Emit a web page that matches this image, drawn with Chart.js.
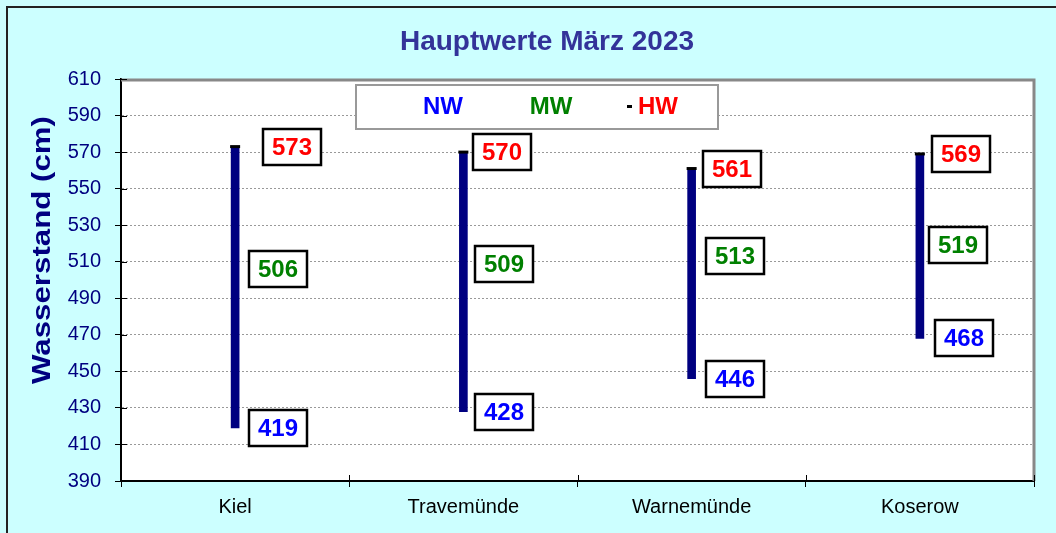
<!DOCTYPE html>
<html>
<head>
<meta charset="utf-8">
<script src="https://cdn.jsdelivr.net/npm/chart.js@4.4.0/dist/chart.umd.min.js"></script>
<style>
  html, body { margin: 0; padding: 0; background: #CCFFFF; }
  #wrap { width: 1056px; height: 533px; }
</style>
</head>
<body>
<div id="wrap"><canvas id="c" width="1056" height="533"></canvas></div>
<script>
const TITLE = 'Hauptwerte März 2023';
const Y_TITLE = 'Wasserstand (cm)';
const stations = ['Kiel', 'Travemünde', 'Warnemünde', 'Koserow'];
const nw = [419, 428, 446, 468];
const mw = [506, 509, 513, 519];
const hw = [573, 570, 561, 569];
const yMin = 390, yMax = 610, yStep = 20;
const legendNames = ['NW', 'MW', 'HW'];

// layout helpers (not data)
const COLORS = { nw: '#0000FF', mw: '#008000', hw: '#FF0000' };
const labelDx = { hw: [28, 10, 11, 12], mw: [14, 12, 14, 9], nw: [14, 12, 14, 15] };
const FONT = '"Liberation Sans", Arial, sans-serif';

const decor = {
  id: 'decor',
  beforeDraw(chart) {
    const ctx = chart.ctx, a = chart.chartArea;
    ctx.save();
    ctx.fillStyle = '#CCFFFF';
    ctx.fillRect(0, 0, chart.width, chart.height);
    ctx.strokeStyle = '#222';
    ctx.lineWidth = 2;
    ctx.beginPath();
    ctx.moveTo(7, chart.height); ctx.lineTo(7, 7); ctx.lineTo(chart.width, 7);
    ctx.stroke();
    ctx.fillStyle = '#FFFFFF';
    ctx.fillRect(a.left, a.top, a.right - a.left, a.bottom - a.top);
    ctx.restore();
  },
  afterDraw(chart) {
    const ctx = chart.ctx, a = chart.chartArea;
    const ys = chart.scales.y;
    ctx.save();
    ctx.strokeStyle = '#888888';
    ctx.lineWidth = 3;
    ctx.beginPath();
    ctx.moveTo(a.left, a.top + 1); ctx.lineTo(a.right, a.top + 1); ctx.lineTo(a.right, a.bottom);
    ctx.stroke();
    ctx.strokeStyle = '#000';
    ctx.lineWidth = 1;
    ctx.beginPath();
    ys.ticks.forEach((t, i) => {
      const y = Math.round(ys.getPixelForTick(i)) + 0.5;
      ctx.moveTo(a.left, y); ctx.lineTo(a.left + 6, y);
    });
    for (let i = 0; i <= stations.length; i++) {
      const x = Math.round(a.left + (a.right - a.left) * i / stations.length) + 0.5;
      ctx.moveTo(x, a.bottom - 6); ctx.lineTo(x, a.bottom);
    }
    ctx.stroke();
    ctx.save();
    ctx.translate(43, 250);
    ctx.rotate(-Math.PI / 2);
    ctx.scale(1.25, 1);
    ctx.font = 'bold 25px ' + FONT;
    ctx.fillStyle = '#000080';
    ctx.textAlign = 'center';
    ctx.textBaseline = 'middle';
    ctx.fillText(Y_TITLE, 0, 0);
    ctx.restore();
    ctx.fillStyle = '#FFFFFF';
    ctx.fillRect(356, 85, 362, 44);
    ctx.strokeStyle = '#999999';
    ctx.lineWidth = 2;
    ctx.strokeRect(356, 85, 362, 44);
    ctx.font = 'bold 24px ' + FONT;
    ctx.textAlign = 'center';
    ctx.textBaseline = 'middle';
    ctx.fillStyle = COLORS.nw; ctx.fillText(legendNames[0], 443, 107);
    ctx.fillStyle = COLORS.mw; ctx.fillText(legendNames[1], 551, 107);
    ctx.fillStyle = COLORS.hw; ctx.fillText(legendNames[2], 658, 107);
    ctx.fillStyle = '#000'; ctx.fillRect(627, 105, 5, 3);
    ctx.restore();
  },
  afterDatasetsDraw(chart) {
    const ctx = chart.ctx;
    const xs = chart.scales.x, ys = chart.scales.y;
    const W = 58, H = 36;
    ctx.save();
    ctx.font = 'bold 24px ' + FONT;
    ctx.textAlign = 'center';
    ctx.textBaseline = 'middle';
    const series = [['hw', hw], ['mw', mw], ['nw', nw]];
    stations.forEach((s, i) => {
      const bx = xs.getPixelForValue(i);
      series.forEach(([k, arr]) => {
        const y = ys.getPixelForValue(arr[i]);
        const left = Math.round(bx + labelDx[k][i]);
        const top = Math.round(y - H / 2);
        ctx.fillStyle = '#FFFFFF';
        ctx.fillRect(left, top, W, H);
        ctx.strokeStyle = '#000';
        ctx.lineWidth = 2.5;
        ctx.strokeRect(left, top, W, H);
        ctx.fillStyle = COLORS[k];
        ctx.fillText(String(arr[i]), left + W / 2, top + H / 2 + 1);
      });
    });
    ctx.restore();
  }
};

new Chart(document.getElementById('c'), {
  type: 'bar',
  data: {
    labels: stations,
    datasets: [
      {
        label: 'NW-HW',
        data: stations.map((_, i) => [nw[i], hw[i]]),
        backgroundColor: '#000080',
        borderWidth: 0,
        barThickness: 8,
        order: 2
      },
      {
        type: 'line',
        label: legendNames[2],
        data: hw,
        showLine: false,
        pointStyle: 'line',
        pointRadius: 5,
        pointBorderWidth: 3,
        pointBorderColor: '#000',
        pointBackgroundColor: '#000',
        order: 1
      }
    ]
  },
  options: {
    responsive: false,
    animation: false,
    devicePixelRatio: 1,
    layout: { padding: { left: 60, right: 22, top: 0, bottom: 0 } },
    plugins: {
      legend: { display: false },
      tooltip: { enabled: false },
      title: {
        display: true,
        text: TITLE,
        color: '#333399',
        font: { family: FONT, size: 28, weight: 'bold', lineHeight: 1.2 },
        padding: { top: 25.2, bottom: 20.2 }
      }
    },
    scales: {
      x: {
        grid: { drawOnChartArea: false, tickLength: 6, tickColor: '#000', offset: true },
        border: { color: '#000', width: 2 },
        ticks: { color: '#000', padding: 8, font: { family: FONT, size: 20 } },
        afterFit(scale) { scale.height = 52; }
      },
      y: {
        min: yMin, max: yMax,
        ticks: { stepSize: yStep, color: '#000080', padding: 14, font: { family: FONT, size: 20 } },
        grid: {
          color: (c) => (c.tick && c.tick.value === yMax) ? 'rgba(0,0,0,0)' : '#999999',
          lineWidth: 1,
          tickLength: 6,
          tickColor: '#000'
        },
        border: { color: '#000', width: 2, dash: [2, 2] },
        afterFit(scale) { scale.width = 61; }
      }
    }
  },
  plugins: [decor]
});
</script>
</body>
</html>
